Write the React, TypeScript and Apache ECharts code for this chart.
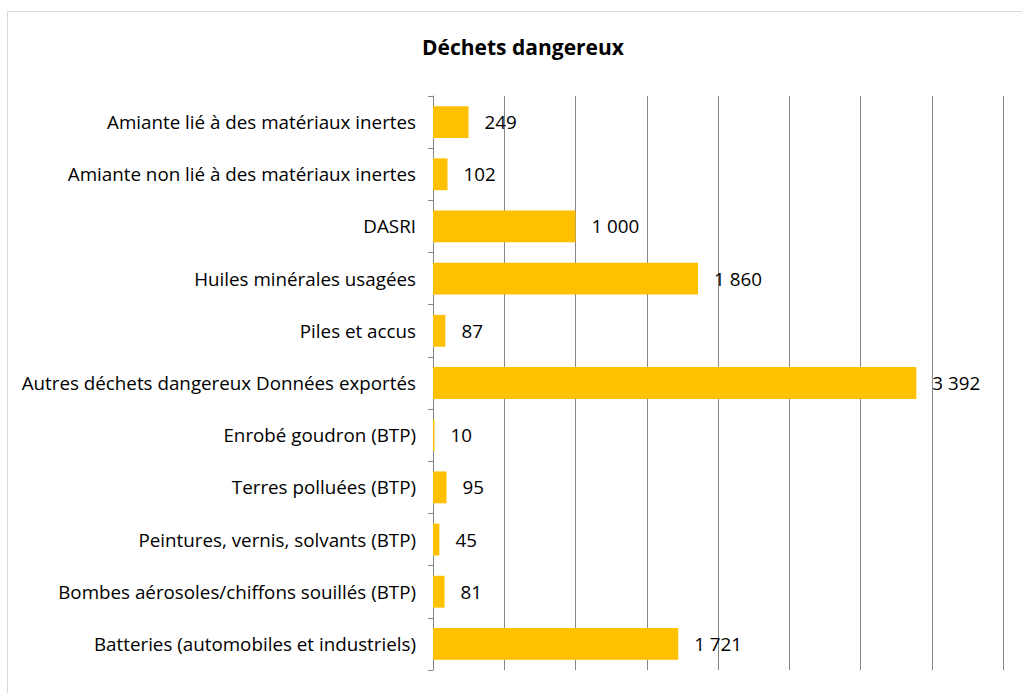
import React, { useEffect, useRef } from "react";
import * as echarts from "echarts";

const categories = [
  "Amiante lié à des matériaux inertes",
  "Amiante non lié à des matériaux inertes",
  "DASRI",
  "Huiles minérales usagées",
  "Piles et accus",
  "Autres déchets dangereux Données exportés",
  "Enrobé goudron (BTP)",
  "Terres polluées (BTP)",
  "Peintures, vernis, solvants (BTP)",
  "Bombes aérosoles/chiffons souillés (BTP)",
  "Batteries (automobiles et industriels)",
];
const values = [249, 102, 1000, 1860, 87, 3392, 10, 95, 45, 81, 1721];
const title = "Déchets dangereux";

const fmt = (v: number) => String(v).replace(/\B(?=(\d{3})+(?!\d))/g, " ");

export default function App() {
  const ref = useRef<HTMLDivElement>(null);
  useEffect(() => {
    document.body.style.margin = "0";
    const chart = echarts.init(ref.current!, null, { renderer: "svg" });
    const font = "'Open Sans', 'Noto Sans', sans-serif";
    chart.setOption({
      animation: false,
      backgroundColor: "#ffffff",
      textStyle: { fontFamily: font },
      title: {
        text: title,
        left: 518,
        top: 31,
        textAlign: "center",
        textStyle: { fontFamily: font, fontSize: 21, fontWeight: "bold", color: "#000" },
      },
      graphic: [
        {
          type: "rect",
          shape: { x: 7.5, y: 11.5, width: 1040, height: 700 },
          style: { fill: "none", stroke: "#d9d9d9", lineWidth: 1 },
          silent: true,
        },
      ],
      grid: { left: 433, right: 19, top: 96, bottom: 23, containLabel: false },
      xAxis: {
        type: "value",
        min: 0,
        max: 4000,
        interval: 500,
        axisLabel: { show: false },
        axisLine: { show: false },
        axisTick: { show: false },
        splitLine: { show: true, lineStyle: { color: "#868686", width: 1 } },
      },
      yAxis: {
        type: "category",
        inverse: true,
        data: categories,
        axisLine: { show: true, lineStyle: { color: "#868686", width: 1 } },
        axisTick: { show: true, length: 5, lineStyle: { color: "#868686" } },
        axisLabel: { margin: 17, fontSize: 18.8, color: "#000", fontFamily: font },
      },
      series: [
        {
          type: "bar",
          data: values,
          barCategoryGap: "39%",
          itemStyle: { color: "#FFC000" },
          label: {
            show: true,
            position: "right",
            distance: 16,
            fontSize: 18.8,
            color: "#000",
            fontFamily: font,
            formatter: (p: any) => fmt(p.value),
          },
        },
      ],
    });
    return () => chart.dispose();
  }, []);
  return <div ref={ref} style={{ width: 1022, height: 693 }} />;
}
